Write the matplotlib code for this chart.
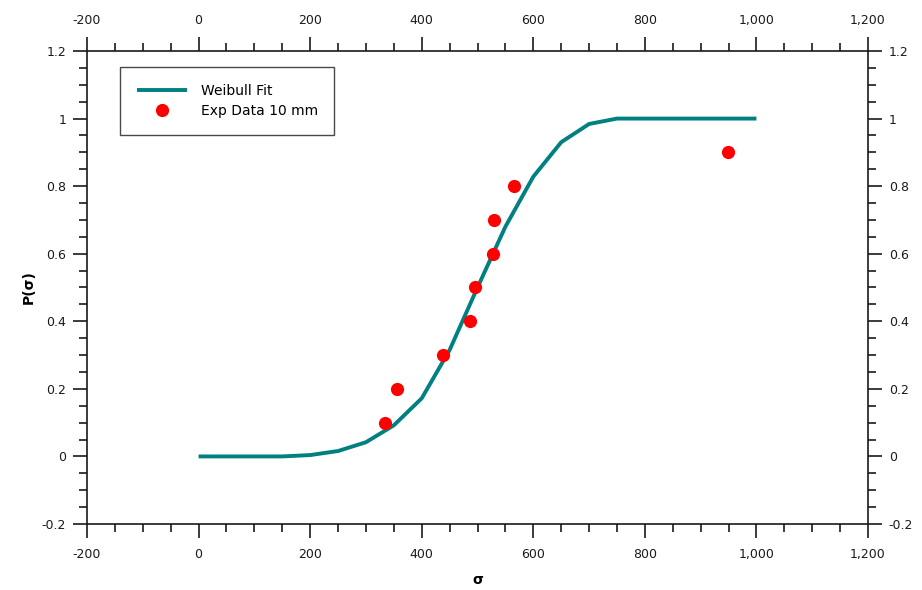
import matplotlib
matplotlib.use("Agg")
import matplotlib.pyplot as plt
from matplotlib.ticker import MultipleLocator, FuncFormatter

# Weibull fit curve
fit_sigma = [0, 50, 100, 150, 200, 250, 300, 350, 400, 450, 500, 550, 600,
             650, 700, 750, 800, 850, 900, 950, 1000]
fit_p = [0, 0, 0, 0, 0.004, 0.016, 0.042, 0.092, 0.172, 0.315, 0.50, 0.68,
         0.828, 0.93, 0.984, 1.0, 1.0, 1.0, 1.0, 1.0, 1.0]

# Experimental data
exp_sigma = [335, 355, 439, 486, 495, 527, 530, 565, 949]
exp_p = [0.1, 0.2, 0.3, 0.4, 0.5, 0.6, 0.7, 0.8, 0.9]

plt.rcParams['font.family'] = ['DejaVu Sans']
plt.rcParams['font.size'] = 9

W, H = 922, 590
fig = plt.figure(figsize=(W/100, H/100), dpi=100)
ax = fig.add_axes([87/W, 1-524/H, (868-87)/W, (524-51)/H])

ax.plot(fit_sigma, fit_p, color='#008080', lw=2.8, label='Weibull Fit',
        solid_capstyle='butt', zorder=2)
ax.plot(exp_sigma, exp_p, 'o', color='#ff0000', ms=9.5, mec='none',
        label='Exp Data 10 mm', zorder=3)

ax.set_xlim(-200, 1200)
ax.set_ylim(-0.2, 1.2)
ax.xaxis.set_major_locator(MultipleLocator(200))
ax.xaxis.set_minor_locator(MultipleLocator(50))
ax.yaxis.set_major_locator(MultipleLocator(0.2))
ax.yaxis.set_minor_locator(MultipleLocator(0.05))
ax.xaxis.set_major_formatter(FuncFormatter(lambda v, p: '{:,.0f}'.format(v)))
ax.yaxis.set_major_formatter(FuncFormatter(lambda v, p: '{:g}'.format(round(v, 2))))

ax.tick_params(which='both', direction='out', top=True, right=True,
               labeltop=True, labelright=True, width=1.2, colors='#1a1a1a')
ax.tick_params(which='major', length=10, labelsize=9)
ax.tick_params(which='minor', length=6)
ax.tick_params(axis='x', which='major', pad=7)
ax.tick_params(axis='y', which='major', pad=5)
for s in ax.spines.values():
    s.set_linewidth(1.2)
    s.set_color('#1a1a1a')

ax.set_xlabel('σ', fontweight='bold', fontsize=10, labelpad=9)
ax.set_ylabel('P(σ)', fontweight='bold', fontsize=10, labelpad=4)

leg = ax.legend(loc='upper left', bbox_to_anchor=(120/W, 1-67/H),
                bbox_transform=fig.transFigure, borderaxespad=0,
                frameon=True, fancybox=False, edgecolor='#1a1a1a',
                handlelength=3.6, handletextpad=1.0, borderpad=1.2,
                labelspacing=0.45, fontsize=10)
leg.get_frame().set_linewidth(1.0)

fig.savefig('out.png', dpi=100)
